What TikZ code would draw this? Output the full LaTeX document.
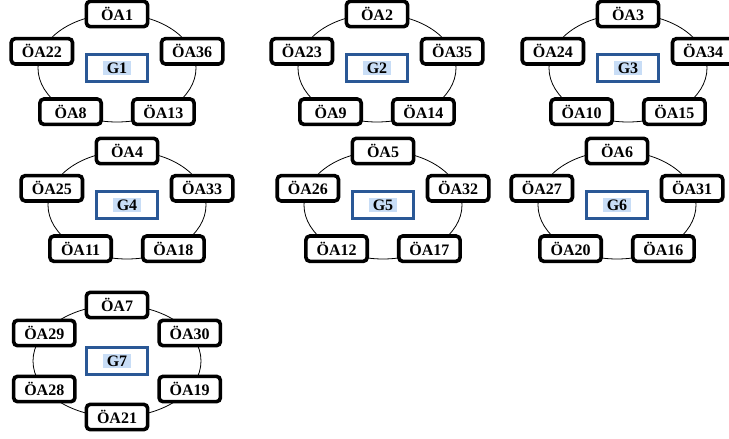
\documentclass[tikz,border=0pt]{standalone}
\usepackage{fontspec}
\setmainfont{Liberation Serif}
\usepackage{tikz}
\usetikzlibrary{calc}
\usepackage{xcolor}
\definecolor{gframe}{HTML}{2A5896}
\definecolor{gshade}{HTML}{C8DDF6}
\tikzset{
  ring/.style={black,line width=0.6pt},
  oabox/.style={draw=black,fill=white,line width=2.7pt,rounded corners=3pt,
    minimum width=46pt,minimum height=19pt,inner xsep=2pt,inner ysep=0pt,
    font=\fontsize{12}{13}\selectfont\bfseries},
  gbox/.style={draw=gframe,fill=white,line width=2.3pt,minimum width=46pt,minimum height=20.5pt},
  gtext/.style={fill=gshade,inner xsep=3pt,inner ysep=1.5pt,
    font=\fontsize{12}{13}\selectfont\bfseries}
}
\newcommand{\pentgrp}[7]{
  \draw[ring] (#1) ellipse [x radius=59.25pt, y radius=40.5pt];
  \node[oabox] (oa#3) at ($(#1)+(90:79 and 54)$) {ÖA#3};
  \node[oabox] (oa#4) at ($(#1)+(162:79 and 54)$) {ÖA#4};
  \node[oabox] (oa#5) at ($(#1)+(234:79 and 54)$) {ÖA#5};
  \node[oabox] (oa#6) at ($(#1)+(306:79 and 54)$) {ÖA#6};
  \node[oabox] (oa#7) at ($(#1)+(18:79 and 54)$) {ÖA#7};
  \node[gbox] (g#2) at (#1) {};
  \node[gtext] (g#2t) at (g#2) {G#2};
}

\begin{document}
\begin{tikzpicture}[x=0.75pt,y=0.75pt]

    \useasboundingbox (0,0) rectangle (729,-439);

    \coordinate (c1) at (117,-68);
    \coordinate (c2) at (377,-68);
    \coordinate (c3) at (628,-68);
    \coordinate (c4) at (127,-205);
    \coordinate (c5) at (383,-205);
    \coordinate (c6) at (617,-205);
    \coordinate (c7) at (117,-361);

    \pentgrp{c1}{1}{1}{22}{8}{13}{36}
    \pentgrp{c2}{2}{2}{23}{9}{14}{35}
    \pentgrp{c3}{3}{3}{24}{10}{15}{34}
    \pentgrp{c4}{4}{4}{25}{11}{18}{33}
    \pentgrp{c5}{5}{5}{26}{12}{17}{32}
    \pentgrp{c6}{6}{6}{27}{20}{16}{31}

    % G7 has six members
    \draw[ring] (c7) ellipse [x radius=63pt, y radius=42pt];
    \node[oabox] (oa7) at ($(c7)+(90:84 and 56)$) {ÖA7};
    \node[oabox] (oa29) at ($(c7)+(150:84 and 56)$) {ÖA29};
    \node[oabox] (oa28) at ($(c7)+(210:84 and 56)$) {ÖA28};
    \node[oabox] (oa21) at ($(c7)+(270:84 and 56)$) {ÖA21};
    \node[oabox] (oa19) at ($(c7)+(330:84 and 56)$) {ÖA19};
    \node[oabox] (oa30) at ($(c7)+(30:84 and 56)$) {ÖA30};
    \node[gbox] (g7) at (c7) {};
    \node[gtext] (g7t) at (g7) {G7};

\end{tikzpicture}
\end{document}
